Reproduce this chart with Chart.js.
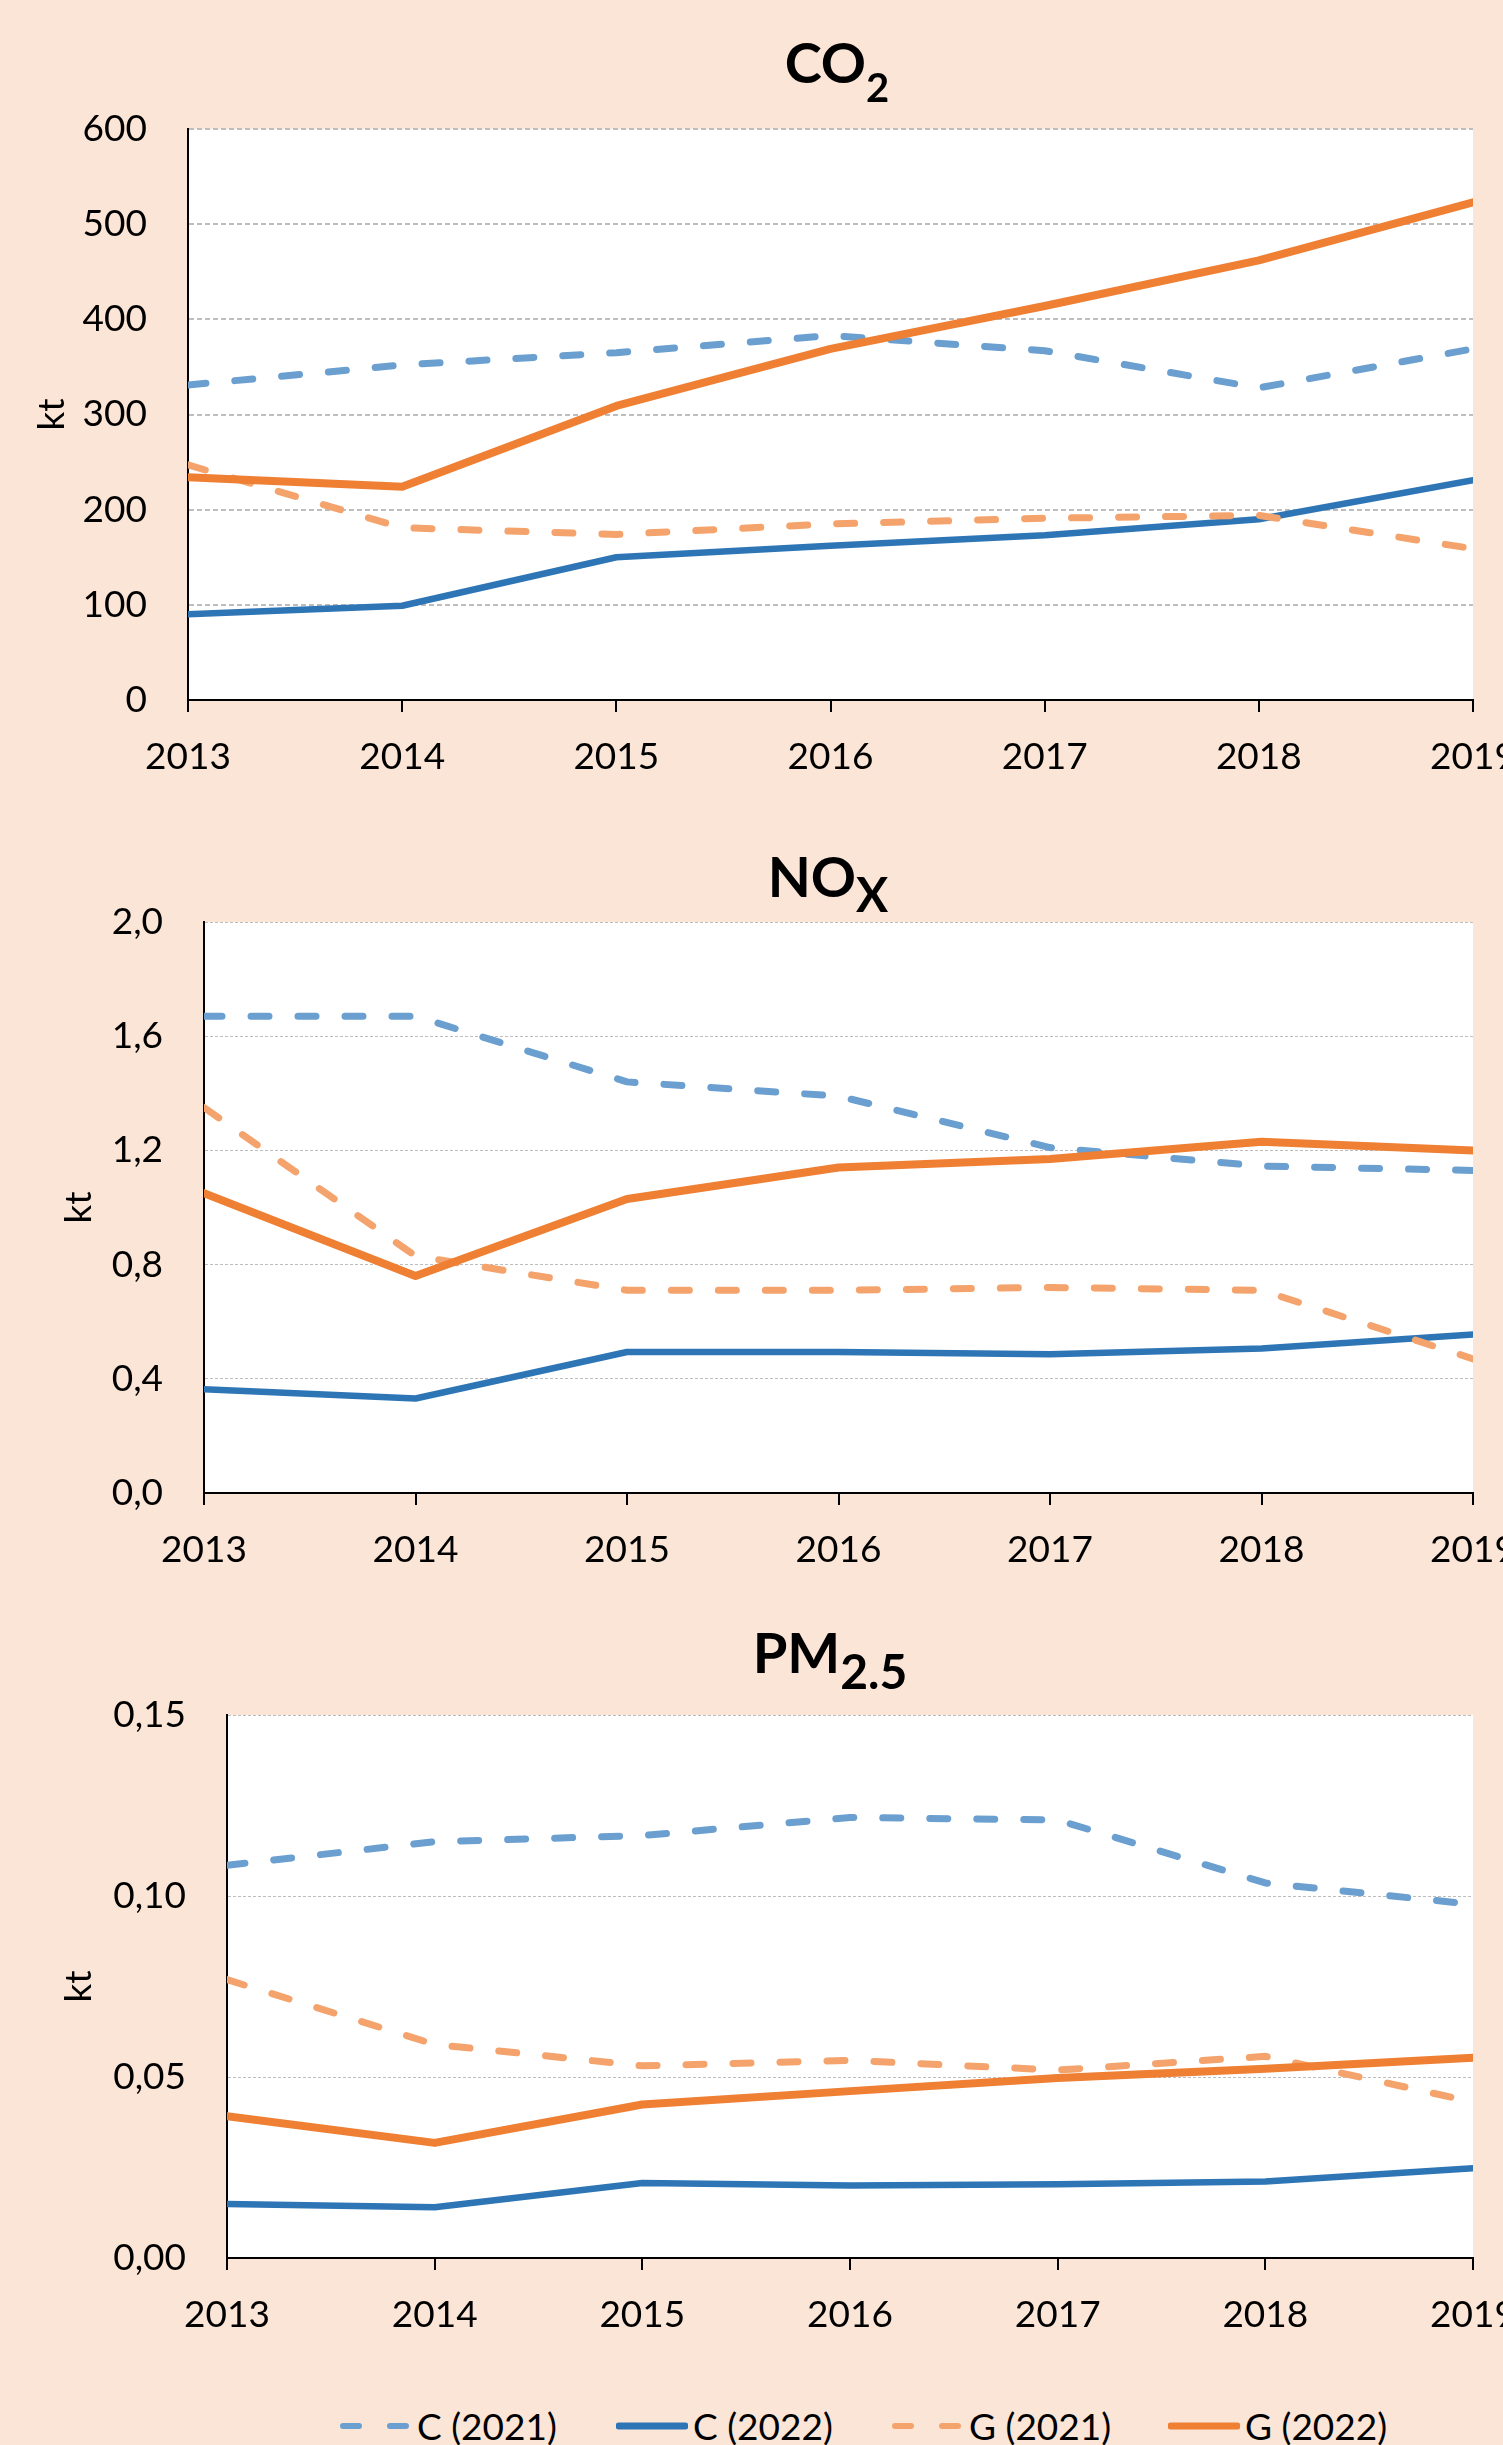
<!DOCTYPE html>
<html>
<head>
<meta charset="utf-8">
<script src="https://cdn.jsdelivr.net/npm/chart.js@4.4.1/dist/chart.umd.min.js"></script>
<style>
  html, body { margin: 0; padding: 0; }
  body { width: 1503px; height: 2445px; overflow: hidden; background: #FBE5D6; position: relative; font-family: Lato, sans-serif; }
  canvas { position: absolute; left: 0; }
  .title { position: absolute; width: 600px; text-align: center; font-weight: 700; font-size: 56px; line-height: 67px; color: #000; white-space: nowrap; z-index: 2; }
  .title span { position: relative; }
  #legend { position: absolute; left: 340px; top: 2403px; display: flex; z-index: 2; }
  .item { width: 276px; height: 46px; display: flex; align-items: center; flex: none; font-size: 37px; line-height: 46px; color: #000; white-space: nowrap; }
  .item svg { flex: none; margin-right: 5px; }
</style>
</head>
<body>
<div class="title" style="left:537px; top:28px;">CO<span style="font-size:40px; top:19px;">2</span></div>
<div class="title" style="left:528px; top:842px;">NO<span style="font-size:48px; top:15px;">X</span></div>
<div class="title" style="left:530px; top:1618px;">PM<span style="font-size:48px; top:16px;">2.5</span></div>

<canvas id="co2" width="1563" height="800" style="top:0px;"></canvas>
<canvas id="nox" width="1563" height="793" style="top:800px;"></canvas>
<canvas id="pm" width="1563" height="765" style="top:1593px;"></canvas>
<div id="legend"></div>

<script>
const years = ['2013', '2014', '2015', '2016', '2017', '2018', '2019'];
const seriesNames = ['C (2021)', 'C (2022)', 'G (2021)', 'G (2022)'];

// CO2, kt
const co2C2021 = [331, 352, 365, 383, 367, 328, 369];
const co2C2022 = [90, 99, 150, 162, 173, 190, 231];
const co2G2021 = [247, 181, 174, 185, 191, 194, 159];
const co2G2022 = [234, 224, 309, 369, 414, 462, 523];
const co2TickValues = [0, 100, 200, 300, 400, 500, 600];
const co2TickLabels = ['0', '100', '200', '300', '400', '500', '600'];

// NOx, kt
const noxC2021 = [1.67, 1.67, 1.44, 1.39, 1.21, 1.145, 1.13];
const noxC2022 = [0.363, 0.331, 0.494, 0.494, 0.486, 0.506, 0.555];
const noxG2021 = [1.35, 0.83, 0.71, 0.71, 0.72, 0.71, 0.47];
const noxG2022 = [1.05, 0.76, 1.03, 1.14, 1.17, 1.23, 1.20];
const noxTickValues = [0, 0.4, 0.8, 1.2, 1.6, 2.0];
const noxTickLabels = ['0,0', '0,4', '0,8', '1,2', '1,6', '2,0'];

// PM2.5, kt
const pmC2021 = [0.1085, 0.115, 0.1167, 0.1217, 0.121, 0.1036, 0.0977];
const pmC2022 = [0.0149, 0.0140, 0.0207, 0.0200, 0.0204, 0.0211, 0.0248];
const pmG2021 = [0.0769, 0.0590, 0.0531, 0.0546, 0.0519, 0.0557, 0.0431];
const pmG2022 = [0.0392, 0.0318, 0.0424, 0.0461, 0.0497, 0.0523, 0.0553];
const pmTickValues = [0, 0.05, 0.10, 0.15];
const pmTickLabels = ['0,00', '0,05', '0,10', '0,15'];

const colC21 = '#6A9FD0';
const colC22 = '#2E75B6';
const colG21 = '#F4A36C';
const colG22 = '#EE7F33';
const lineDash = [18, 29];
const fontFamily = 'Lato, sans-serif';

function lineSets(c21, c22, g21, g22) {
  return [
    { label: seriesNames[0], data: c21, borderColor: colC21, borderWidth: 7, borderDash: lineDash, order: 4 },
    { label: seriesNames[1], data: c22, borderColor: colC22, borderWidth: 6.5, order: 3 },
    { label: seriesNames[2], data: g21, borderColor: colG21, borderWidth: 7, borderDash: lineDash, order: 2 },
    { label: seriesNames[3], data: g22, borderColor: colG22, borderWidth: 8, order: 1 },
  ].map(d => Object.assign({
    pointRadius: 0, pointHoverRadius: 0, tension: 0, fill: false, clip: 0,
    borderCapStyle: 'round', borderJoinStyle: 'round'
  }, d));
}

// white plot area
const plotBg = {
  id: 'plotBg',
  beforeDraw(chart) {
    const a = chart.chartArea;
    const ctx = chart.ctx;
    ctx.save();
    ctx.fillStyle = '#ffffff';
    ctx.fillRect(a.left, a.top, a.right - a.left, a.bottom - a.top);
    ctx.restore();
  }
};

function makeChart(id, datasets, opt) {
  return new Chart(document.getElementById(id), {
    type: 'line',
    data: { labels: years, datasets: datasets },
    plugins: [plotBg],
    options: {
      responsive: false,
      animation: false,
      devicePixelRatio: 1,
      layout: { padding: { top: opt.padTop, right: 90, bottom: 0, left: 0 } },
      plugins: { legend: { display: false }, title: { display: false }, tooltip: { enabled: false } },
      scales: {
        x: {
          offset: false,
          afterFit: s => { s.height = 100; },
          grid: { drawOnChartArea: false, drawTicks: true, tickLength: 12, color: '#000', lineWidth: 2, offset: false },
          border: { display: true, color: '#000', width: 2 },
          ticks: { color: '#000', font: { family: fontFamily, size: 37 }, padding: 23, maxRotation: 0, autoSkip: false },
        },
        y: {
          min: opt.tickValues[0],
          max: opt.tickValues[opt.tickValues.length - 1],
          afterFit: s => { s.width = opt.yWidth; },
          afterBuildTicks: s => { s.ticks = opt.tickValues.map(v => ({ value: v })); },
          grid: { color: '#BDBDBD', lineWidth: opt.gridWidth, drawTicks: false },
          border: { display: true, color: '#000', width: 2, dash: opt.gridDash },
          ticks: {
            color: '#000', font: { family: fontFamily, size: 37 }, padding: 41,
            callback: (v, i) => opt.tickLabels[i]
          },
          title: {
            display: true, text: 'kt', color: '#000',
            font: { family: fontFamily, size: 37 }, padding: { top: opt.titlePad, bottom: 0 }
          },
        },
      },
    },
  });
}

makeChart('co2', lineSets(co2C2021, co2C2022, co2G2021, co2G2022), {
  padTop: 129, yWidth: 188, titlePad: 30, gridWidth: 2, gridDash: [5, 3],
  tickValues: co2TickValues, tickLabels: co2TickLabels
});
makeChart('nox', lineSets(noxC2021, noxC2022, noxG2021, noxG2022), {
  padTop: 122, yWidth: 204, titlePad: 57, gridWidth: 1, gridDash: [3, 2],
  tickValues: noxTickValues, tickLabels: noxTickLabels
});
const pmChart = makeChart('pm', lineSets(pmC2021, pmC2022, pmG2021, pmG2022), {
  padTop: 122, yWidth: 227, titlePad: 57, gridWidth: 1, gridDash: [3, 2],
  tickValues: pmTickValues, tickLabels: pmTickLabels
});

// html legend built from the datasets
(function buildLegend(chart) {
  const box = document.getElementById('legend');
  const svgNS = 'http://www.w3.org/2000/svg';
  chart.data.datasets.forEach(ds => {
    const item = document.createElement('div');
    item.className = 'item';
    const svg = document.createElementNS(svgNS, 'svg');
    svg.setAttribute('width', '72');
    svg.setAttribute('height', '12');
    const ln = document.createElementNS(svgNS, 'line');
    ln.setAttribute('x1', '3');
    ln.setAttribute('x2', '69');
    ln.setAttribute('y1', '6');
    ln.setAttribute('y2', '6');
    ln.setAttribute('stroke', ds.borderColor);
    ln.setAttribute('stroke-width', ds.borderDash ? 6 : 7);
    ln.setAttribute('stroke-linecap', 'round');
    if (ds.borderDash) ln.setAttribute('stroke-dasharray', '16 31');
    svg.appendChild(ln);
    item.appendChild(svg);
    const txt = document.createElement('span');
    txt.textContent = ds.label;
    item.appendChild(txt);
    box.appendChild(item);
  });
})(pmChart);
</script>
</body>
</html>
